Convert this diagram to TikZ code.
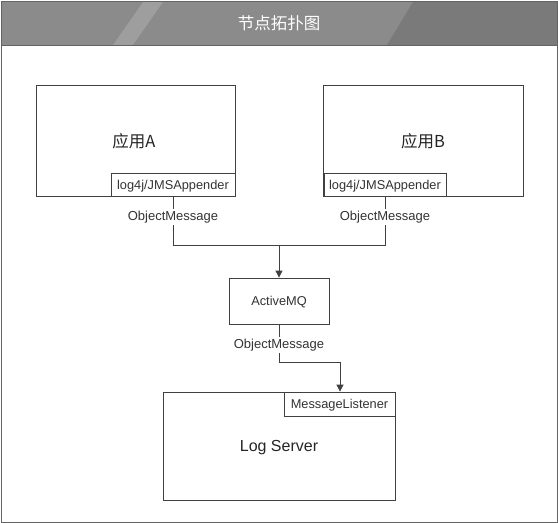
\documentclass[tikz,border=0pt]{standalone}
\usepackage{fontspec}
\setmainfont{Liberation Sans}
\newfontfamily\cjk{Noto Sans CJK SC}
\usetikzlibrary{arrows.meta}
\begin{document}
\begin{tikzpicture}[x=1pt,y=-1pt,
  box/.style={draw=black!75,line width=0.8pt,fill=white,inner sep=0pt},
  lbl/.style={font=\fontsize{12.8}{15}\selectfont,text=black!80,yshift=-1.5pt},
  big/.style={font=\fontsize{16}{19}\selectfont,text=black!85},
  conn/.style={draw=black!75,line width=0.8pt},
  arr/.style={conn,-{Triangle[length=7pt,width=7pt]}},
  msg/.style={fill=white,inner sep=1.5pt,font=\fontsize{13}{15}\selectfont,text=black!80}]
\useasboundingbox (0,0) rectangle (558,523);
\fill[white] (0,0) rectangle (558,523);
% title bar
\fill[color={rgb,255:red,139;green,139;blue,139}] (1,2) rectangle (557,45);
\fill[color={rgb,255:red,158;green,158;blue,158}] (113,45) -- (133,45) -- (163,2) -- (143,2) -- cycle;
\fill[color={rgb,255:red,122;green,122;blue,122}] (387,45) -- (413,2) -- (557,2) -- (557,45) -- cycle;
\draw[color={rgb,255:red,100;green,100;blue,100},line width=0.8pt] (1,1) rectangle (557,522);
\draw[color={rgb,255:red,100;green,100;blue,100},line width=0.8pt] (1,45) -- (557,45);
\node[text=white,font=\cjk\fontsize{16.5}{20}\selectfont] (title) at (279,23) {节点拓扑图};
% boxes
\node[box,minimum width=199pt,minimum height=111pt] (A) at (135.5,140.5) {};
\node[font=\cjk\fontsize{16.5}{19}\selectfont,text=black!85] (At) at (134,141) {应用A};
\node[box,minimum width=124pt,minimum height=23pt] (Asub) at (173,184.5) {};
\node[lbl] (Asubt) at (Asub) {log4j/JMSAppender};
\node[box,minimum width=200pt,minimum height=111pt] (B) at (423,140.5) {};
\node[font=\cjk\fontsize{16.5}{19}\selectfont,text=black!85] (Bt) at (423,141) {应用B};
\node[box,minimum width=122pt,minimum height=23pt] (Bsub) at (385,184.5) {};
\node[lbl] (Bsubt) at (Bsub) {log4j/JMSAppender};
\node[box,minimum width=100pt,minimum height=46pt] (mq) at (279,301) {};
\node[lbl] (mqt) at (mq) {ActiveMQ};
\node[box,minimum width=232pt,minimum height=108pt] (L) at (279,446) {};
\node[big] (Lt) at (279,448) {Log Server};
\node[box,minimum width=111pt,minimum height=24pt] (Lsub) at (339.5,404) {};
\node[lbl] (Lsubt) at (Lsub) {MessageListener};
% connectors
\coordinate (j1) at (173,245);
\coordinate (j2) at (385,245);
\coordinate (j3) at (279,245);
\coordinate (k1) at (279,362);
\coordinate (k2) at (340,362);
\draw[conn] (Asub.south) -- (j1) -- (j3);
\draw[conn] (Bsub.south) -- (j2) -- (j3);
\draw[arr] (j3) -- (mq.north);
\draw[arr] (mq.south) -- (k1) -- (k2) -- (L.north -| k2);
\node[msg] (m1) at (173,217) {ObjectMessage};
\node[msg] (m2) at (385,217) {ObjectMessage};
\node[msg] (m3) at (279,345) {ObjectMessage};
\end{tikzpicture}
\end{document}
